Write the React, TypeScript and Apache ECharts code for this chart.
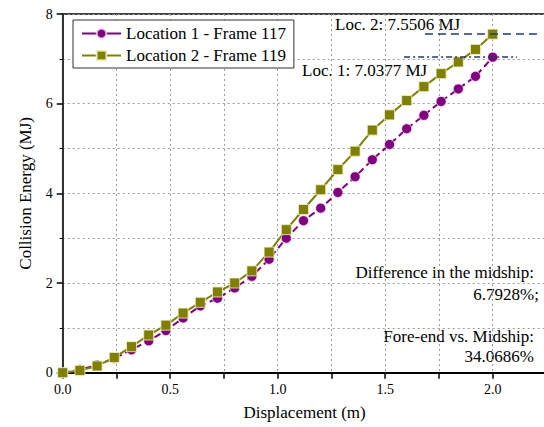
import React, { useEffect, useRef } from "react";
import * as echarts from "echarts";

const displacement = [
  0, 0.08, 0.16, 0.24, 0.32, 0.4, 0.48, 0.56, 0.64, 0.72, 0.8, 0.88, 0.96,
  1.04, 1.12, 1.2, 1.28, 1.36, 1.44, 1.52, 1.6, 1.68, 1.76, 1.84, 1.92, 2.0,
];
const location1 = [
  0, 0.07, 0.17, 0.32, 0.51, 0.71, 0.94, 1.22, 1.49, 1.66, 1.89, 2.15, 2.53,
  3.0, 3.39, 3.67, 4.02, 4.37, 4.75, 5.09, 5.44, 5.74, 6.05, 6.33, 6.61, 7.0377,
];
const location2 = [
  0, 0.05, 0.15, 0.34, 0.58, 0.84, 1.06, 1.33, 1.57, 1.8, 2.0, 2.27, 2.69,
  3.19, 3.64, 4.08, 4.53, 4.94, 5.41, 5.75, 6.07, 6.38, 6.67, 6.93, 7.21, 7.5506,
];
const seriesNames = ["Location 1 - Frame 117", "Location 2 - Frame 119"];
const refLoc1 = 7.0377;
const refLoc2 = 7.5506;
const refLoc1Span = [1.588, 2.113];
const refLoc2Span = [1.685, 2.206];

const FONT = "Liberation Serif";

export default function App() {
  const ref = useRef<HTMLDivElement>(null);
  useEffect(() => {
    if (!ref.current) return;
    const chart = echarts.init(ref.current, undefined, { renderer: "svg" });
    const gridLine = { show: true, lineStyle: { color: "#9a9a9a", type: [2, 3], width: 1 } };
    const txt = (text: string, pos: any) => ({
      type: "text",
      ...pos,
      style: { text, fontFamily: FONT, fontSize: 17, fill: "#000" },
    });
    chart.setOption({
      animation: false,
      backgroundColor: "#fff",
      textStyle: { fontFamily: FONT },
      grid: {
        left: 62.7,
        top: 14,
        width: 483.75,
        height: 358.7,
        show: true,
        borderColor: "#000",
        borderWidth: 1.5,
        containLabel: false,
        outerBoundsMode: "none",
      },
      legend: {
        orient: "vertical",
        left: 73,
        top: 20,
        padding: [5, 8, 4, 8],
        itemGap: 5,
        itemWidth: 39,
        itemHeight: 12,
        borderColor: "#333",
        borderWidth: 1,
        backgroundColor: "#fff",
        textStyle: { fontFamily: FONT, fontSize: 17, color: "#000" },
        data: seriesNames.map((name) => ({ name, lineStyle: { type: "solid" } })),
      },
      xAxis: {
        type: "value",
        min: 0,
        max: 2.25,
        interval: 0.25,
        name: "Displacement (m)",
        nameLocation: "middle",
        nameGap: 31,
        nameTextStyle: { fontFamily: FONT, fontSize: 17, color: "#000" },
        axisLine: { show: true, onZero: false, lineStyle: { color: "#000", width: 2 } },
        axisTick: { show: true, length: 6, lineStyle: { color: "#000", width: 1.5 } },
        axisLabel: {
          fontFamily: FONT,
          fontSize: 14,
          color: "#000",
          margin: 10,
          showMaxLabel: false,
          formatter: (v: number) => (Math.abs(v * 2 - Math.round(v * 2)) < 1e-6 && v <= 2 ? v.toFixed(1) : ""),
        },
        splitLine: gridLine,
      },
      yAxis: {
        type: "value",
        min: 0,
        max: 8,
        interval: 2,
        name: "Collision Energy (MJ)",
        nameLocation: "middle",
        nameGap: 29,
        nameTextStyle: { fontFamily: FONT, fontSize: 17, color: "#000" },
        axisLine: { show: true, onZero: false, lineStyle: { color: "#333", width: 2 } },
        axisTick: { show: true, length: 6, lineStyle: { color: "#000", width: 1.5 } },
        minorTick: { show: true, splitNumber: 2, length: 3, lineStyle: { color: "#000", width: 1 } },
        axisLabel: { fontFamily: FONT, fontSize: 14, color: "#000", margin: 10 },
        splitLine: gridLine,
        minorSplitLine: gridLine,
      },
      series: [
        {
          name: seriesNames[0],
          type: "line",
          data: displacement.map((x, i) => [x, location1[i]]),
          symbol: "circle",
          symbolSize: 10,
          lineStyle: { color: "#800080", width: 2, type: [7, 4] },
          itemStyle: { color: "#800080", borderColor: "rgba(255,230,255,0.7)", borderWidth: 1 },
          markLine: {
            silent: true,
            symbol: "none",
            label: { show: false },
            lineStyle: { color: "#1f3a72", width: 1.5, type: [6, 3, 2, 3] },
            data: [[{ coord: [refLoc1Span[0], refLoc1] }, { coord: [refLoc1Span[1], refLoc1] }]],
          },
        },
        {
          name: seriesNames[1],
          type: "line",
          data: displacement.map((x, i) => [x, location2[i]]),
          symbol: "rect",
          symbolSize: 10,
          lineStyle: { color: "#808000", width: 2 },
          itemStyle: { color: "#808000", borderColor: "rgba(240,240,200,0.8)", borderWidth: 1 },
          markLine: {
            silent: true,
            symbol: "none",
            label: { show: false },
            lineStyle: { color: "#1f3a72", width: 1.5, type: [8, 5] },
            data: [[{ coord: [refLoc2Span[0], refLoc2] }, { coord: [refLoc2Span[1], refLoc2] }]],
          },
        },
      ],
      graphic: [
        txt(`Loc. 2: ${refLoc2} MJ`, { left: 335, top: 16 }),
        txt(`Loc. 1: ${refLoc1} MJ`, { left: 302, top: 62 }),
        txt("Difference in the midship:", { right: 10, top: 264 }),
        txt("6.7928%;", { right: 5, top: 286 }),
        txt("Fore-end vs. Midship:", { right: 10, top: 328 }),
        txt("34.0686%", { right: 10, top: 348 }),
      ],
    });
    return () => chart.dispose();
  }, []);
  return <div ref={ref} style={{ position: "fixed", left: 0, top: 0, width: 544, height: 427 }} />;
}
